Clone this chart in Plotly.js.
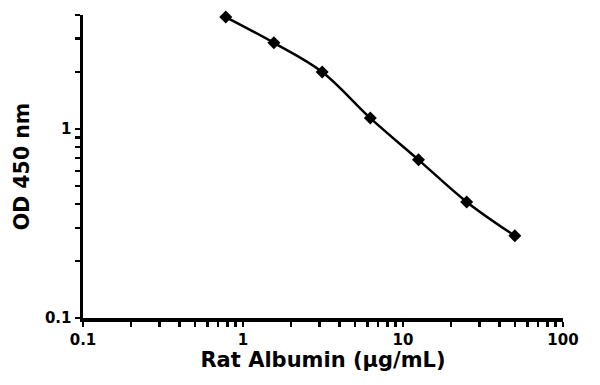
<!DOCTYPE html>
<html>
<head>
<meta charset="utf-8">
<script src="https://cdn.plot.ly/plotly-3.0.1.min.js"></script>
<style>html,body{margin:0;padding:0;background:#fff;}#chart{width:600px;height:385px;}</style>
</head>
<body>
<div id="chart"></div>
<script>
const concentration = [0.78, 1.56, 3.125, 6.25, 12.5, 25, 50];
const od450 = [3.9, 2.85, 2.0, 1.14, 0.686, 0.411, 0.272];

const xTickVals = [0.1,0.2,0.3,0.4,0.5,0.6,0.7,0.8,0.9,1,2,3,4,5,6,7,8,9,10,20,30,40,50,60,70,80,90,100];
const xTickText = ['0.1','','','','','','','','','1','','','','','','','','','10','','','','','','','','','100'];
const yTickVals = [0.1,0.2,0.3,0.4,0.5,0.6,0.7,0.8,0.9,1,2,3,4];
const yTickText = ['0.1','','','','','','','','','1','','',''];

const xTitle = 'Rat Albumin (µg/mL)';
const yTitle = 'OD 450 nm';

const fontFam = 'DejaVu Sans, Liberation Sans, Arial, sans-serif';
const bold = s => s ? '<b>' + s + '</b>' : '';

const trace = {
  x: concentration,
  y: od450,
  type: 'scatter',
  mode: 'lines+markers',
  line: {color: '#000', width: 2.5, shape: 'spline', smoothing: 1},
  marker: {symbol: 'diamond', size: 10, color: '#000'},
  showlegend: false,
  cliponaxis: false
};

const layout = {
  width: 600, height: 385,
  margin: {l: 83, r: 37, t: 15, b: 67},
  paper_bgcolor: '#fff', plot_bgcolor: '#fff',
  font: {family: fontFam, color: '#000'},
  xaxis: {
    type: 'log',
    range: [-1, 2],
    tickvals: xTickVals, ticktext: xTickText.map(bold),
    ticks: 'outside', ticklen: 5, tickwidth: 2.5, tickcolor: '#000',
    showline: true, linewidth: 3.5, linecolor: '#000',
    showgrid: false, zeroline: false,
    tickfont: {family: fontFam, size: 15, weight: 'bold', color: '#000'},
    title: {text: bold(xTitle), font: {family: fontFam, size: 21, weight: 'bold', color: '#000'}, standoff: 5}
  },
  yaxis: {
    type: 'log',
    range: [-1, Math.log10(4)],
    tickvals: yTickVals, ticktext: yTickText.map(bold),
    ticks: 'outside', ticklen: 5, tickwidth: 2.5, tickcolor: '#000',
    showline: true, linewidth: 3.5, linecolor: '#000',
    showgrid: false, zeroline: false,
    tickfont: {family: fontFam, size: 15, weight: 'bold', color: '#000'},
    title: {text: bold(yTitle), font: {family: fontFam, size: 20.5, weight: 'bold', color: '#000'}, standoff: 10}
  }
};

Plotly.newPlot('chart', [trace], layout, {displayModeBar: false, staticPlot: true});
</script>
</body>
</html>
